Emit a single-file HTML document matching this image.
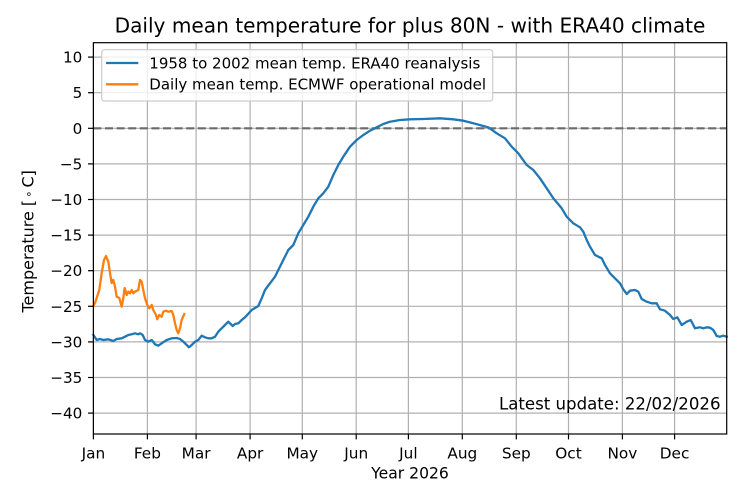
<!DOCTYPE html>
<html><head><meta charset="utf-8"><style>
html,body{margin:0;padding:0;background:#fff;}
svg{display:block;font-family:"DejaVu Sans","Liberation Sans",sans-serif;}
</style></head><body>
<svg width="744" height="504" viewBox="0 0 744 504" xmlns="http://www.w3.org/2000/svg">
<rect width="744" height="504" fill="#fff"/>
<!-- grid -->
<g stroke="#b0b0b0" stroke-width="1.2">
<line x1="93.4" y1="42.7" x2="93.4" y2="434"/>
<line x1="147.4" y1="42.7" x2="147.4" y2="434"/>
<line x1="196.1" y1="42.7" x2="196.1" y2="434"/>
<line x1="250.1" y1="42.7" x2="250.1" y2="434"/>
<line x1="302.3" y1="42.7" x2="302.3" y2="434"/>
<line x1="356.2" y1="42.7" x2="356.2" y2="434"/>
<line x1="408.4" y1="42.7" x2="408.4" y2="434"/>
<line x1="462.3" y1="42.7" x2="462.3" y2="434"/>
<line x1="516.3" y1="42.7" x2="516.3" y2="434"/>
<line x1="568.5" y1="42.7" x2="568.5" y2="434"/>
<line x1="622.4" y1="42.7" x2="622.4" y2="434"/>
<line x1="674.6" y1="42.7" x2="674.6" y2="434"/>
<line x1="93.4" y1="57.1" x2="726.7" y2="57.1"/>
<line x1="93.4" y1="92.7" x2="726.7" y2="92.7"/>
<line x1="93.4" y1="128.3" x2="726.7" y2="128.3"/>
<line x1="93.4" y1="163.9" x2="726.7" y2="163.9"/>
<line x1="93.4" y1="199.5" x2="726.7" y2="199.5"/>
<line x1="93.4" y1="235.1" x2="726.7" y2="235.1"/>
<line x1="93.4" y1="270.7" x2="726.7" y2="270.7"/>
<line x1="93.4" y1="306.3" x2="726.7" y2="306.3"/>
<line x1="93.4" y1="341.9" x2="726.7" y2="341.9"/>
<line x1="93.4" y1="377.5" x2="726.7" y2="377.5"/>
<line x1="93.4" y1="413.1" x2="726.7" y2="413.1"/>
</g>
<!-- zero dashed -->
<line x1="93.4" y1="128.3" x2="726.7" y2="128.3" stroke="#6a6a6a" stroke-width="2.2" stroke-dasharray="8,3.6"/>
<!-- blue -->
<polyline fill="none" stroke="#1f77b4" stroke-width="2.3" stroke-linejoin="round" stroke-linecap="square" points="93.4,335 96.7,340 100,339 103.3,340 108.3,339.3 113.3,341 116.7,339 121.7,338.3 125,336.7 128.3,335 131.7,334.3 135,333.3 138.3,334.3 140,333.3 142.7,335 145,340 148.3,341.7 151.7,340 155,344.3 158.3,345.7 161.7,343.3 166.7,340 171.7,338.3 176.7,338 180,339 183.3,341.7 186.7,345 189,347.3 191.7,345 195,341.7 198.3,340 201.7,335.7 205,337.3 208.3,338.3 211.7,338.3 215,336.7 218.3,331.7 221.7,328.3 225,325 228.3,321.7 230,323.3 232.7,326 235,324 238.3,323.3 241.7,320 245,317.3 251.7,310 258.3,306 261.7,298.3 265,290 270,283.3 275,276.7 278.3,270 283.3,260 288.3,250 293.3,245 298.3,233.3 303.3,225 308.3,216.7 313.3,206.7 318.3,198.3 323.3,193.3 328.3,186.7 333.3,175 338.3,165 343.3,156.7 350,146.7 356.7,140 363.3,135 370,130.7 376.7,127.3 383.3,124 390,121.7 400,120 410,119.3 423.3,119 440,118.3 453.3,119.3 463.3,120.7 473.3,123.3 488.3,127.3 496.7,133.3 505,138.3 511.7,146.7 518.3,153.3 526.7,165 533.3,170 540,178.3 546.7,188.3 553.3,198.3 561.7,208.3 566.7,216.7 573.3,223.3 580,227.3 583.3,231.7 586.7,240 590,246.7 595,255 601.7,258.3 605,265 610,273.3 615,278.3 620,283.3 623.3,289.3 626.7,294 630,290.7 635,290 638.3,291.7 641.7,299 646.7,301.7 651.7,303.3 656.7,303.3 660,309.3 665,310.7 670,315 673.3,319 677.3,317.3 681.7,325 686.7,321.7 690.7,320 695,328.3 700,327.3 703.3,328.3 706.7,327.3 710,327.7 713.3,330 716.7,336 720,336.7 723.3,335.7 726.7,336.7"/>
<!-- orange -->
<polyline fill="none" stroke="#ff7f0e" stroke-width="2.3" stroke-linejoin="round" stroke-linecap="square" points="93.4,306 95,303 99.3,290 101.7,273 104,260 106,256 108.3,261.7 110,273 111.7,283 113.3,280 115,286.7 116.7,296.7 119.3,298 121.7,306.7 123.3,298 124.7,288 126.7,295 128.3,291.7 130,293.3 131.7,290 133.3,293.3 135,291.7 138.3,290 140,280 141.7,281.7 143.3,290 145,298.3 147.3,305 149.3,308.3 151.7,305 153.3,310 156,315 157.3,319.3 159.3,315 161.7,316.7 163.3,311.7 166,310.7 168.3,311.7 171.7,311 173.3,315 175,323.3 176.7,330 178.3,333.3 180,328.3 181.7,320 184.3,314"/>
<!-- spines -->
<rect x="93.4" y="42.7" width="633.3" height="391.3" fill="none" stroke="#000" stroke-width="1.2"/>
<!-- ticks -->
<g stroke="#000" stroke-width="1.2">
<line x1="93.4" y1="434" x2="93.4" y2="439.4"/>
<line x1="147.4" y1="434" x2="147.4" y2="439.4"/>
<line x1="196.1" y1="434" x2="196.1" y2="439.4"/>
<line x1="250.1" y1="434" x2="250.1" y2="439.4"/>
<line x1="302.3" y1="434" x2="302.3" y2="439.4"/>
<line x1="356.2" y1="434" x2="356.2" y2="439.4"/>
<line x1="408.4" y1="434" x2="408.4" y2="439.4"/>
<line x1="462.3" y1="434" x2="462.3" y2="439.4"/>
<line x1="516.3" y1="434" x2="516.3" y2="439.4"/>
<line x1="568.5" y1="434" x2="568.5" y2="439.4"/>
<line x1="622.4" y1="434" x2="622.4" y2="439.4"/>
<line x1="674.6" y1="434" x2="674.6" y2="439.4"/>
<line x1="88" y1="57.1" x2="93.4" y2="57.1"/>
<line x1="88" y1="92.7" x2="93.4" y2="92.7"/>
<line x1="88" y1="128.3" x2="93.4" y2="128.3"/>
<line x1="88" y1="163.9" x2="93.4" y2="163.9"/>
<line x1="88" y1="199.5" x2="93.4" y2="199.5"/>
<line x1="88" y1="235.1" x2="93.4" y2="235.1"/>
<line x1="88" y1="270.7" x2="93.4" y2="270.7"/>
<line x1="88" y1="306.3" x2="93.4" y2="306.3"/>
<line x1="88" y1="341.9" x2="93.4" y2="341.9"/>
<line x1="88" y1="377.5" x2="93.4" y2="377.5"/>
<line x1="88" y1="413.1" x2="93.4" y2="413.1"/>
</g>
<!-- y tick labels -->
<g font-size="15.2" text-anchor="end" fill="#000">
<text x="82.3" y="62.6">10</text>
<text x="82.3" y="98.2">5</text>
<text x="82.3" y="133.8">0</text>
<text x="82.3" y="169.4">−5</text>
<text x="82.3" y="205">−10</text>
<text x="82.3" y="240.6">−15</text>
<text x="82.3" y="276.2">−20</text>
<text x="82.3" y="311.8">−25</text>
<text x="82.3" y="347.4">−30</text>
<text x="82.3" y="383">−35</text>
<text x="82.3" y="418.6">−40</text>
</g>
<!-- x tick labels -->
<g font-size="15.3" text-anchor="middle" fill="#000">
<text x="93.4" y="458.3">Jan</text>
<text x="147.4" y="458.3">Feb</text>
<text x="196.1" y="458.3">Mar</text>
<text x="250.1" y="458.3">Apr</text>
<text x="302.3" y="458.3">May</text>
<text x="356.2" y="458.3">Jun</text>
<text x="408.4" y="458.3">Jul</text>
<text x="462.3" y="458.3">Aug</text>
<text x="516.3" y="458.3">Sep</text>
<text x="568.5" y="458.3">Oct</text>
<text x="622.4" y="458.3">Nov</text>
<text x="674.6" y="458.3">Dec</text>
</g>
<text x="410" y="478.6" font-size="15.6" text-anchor="middle">Year 2026</text>
<!-- y label -->
<text transform="translate(33.4,312.5) rotate(-90)" font-size="16">Temperature [</text>
<text transform="translate(32.5,194.2) rotate(-90)" font-size="11.5" text-anchor="middle">∘</text>
<text transform="translate(33.4,187.5) rotate(-90)" font-size="16">C]</text>
<!-- title -->
<text x="410" y="32.7" font-size="20.1" text-anchor="middle">Daily mean temperature for plus 80N - with ERA40 climate</text>
<!-- latest update -->
<text x="720.5" y="409.5" font-size="16.6" text-anchor="end">Latest update: 22/02/2026</text>
<!-- legend -->
<rect x="101.7" y="49.7" width="391" height="51.3" rx="2.8" ry="2.8" fill="#fff" fill-opacity="0.8" stroke="#cccccc" stroke-width="1.2"/>
<line x1="106" y1="63" x2="138.3" y2="63" stroke="#1f77b4" stroke-width="2.3"/>
<line x1="106" y1="84.3" x2="138.3" y2="84.3" stroke="#ff7f0e" stroke-width="2.3"/>
<text x="149.3" y="68.4" font-size="15" textLength="331" lengthAdjust="spacingAndGlyphs">1958 to 2002 mean temp. ERA40 reanalysis</text>
<text x="149.3" y="89.7" font-size="15">Daily mean temp. ECMWF operational model</text>
</svg>
</body></html>
